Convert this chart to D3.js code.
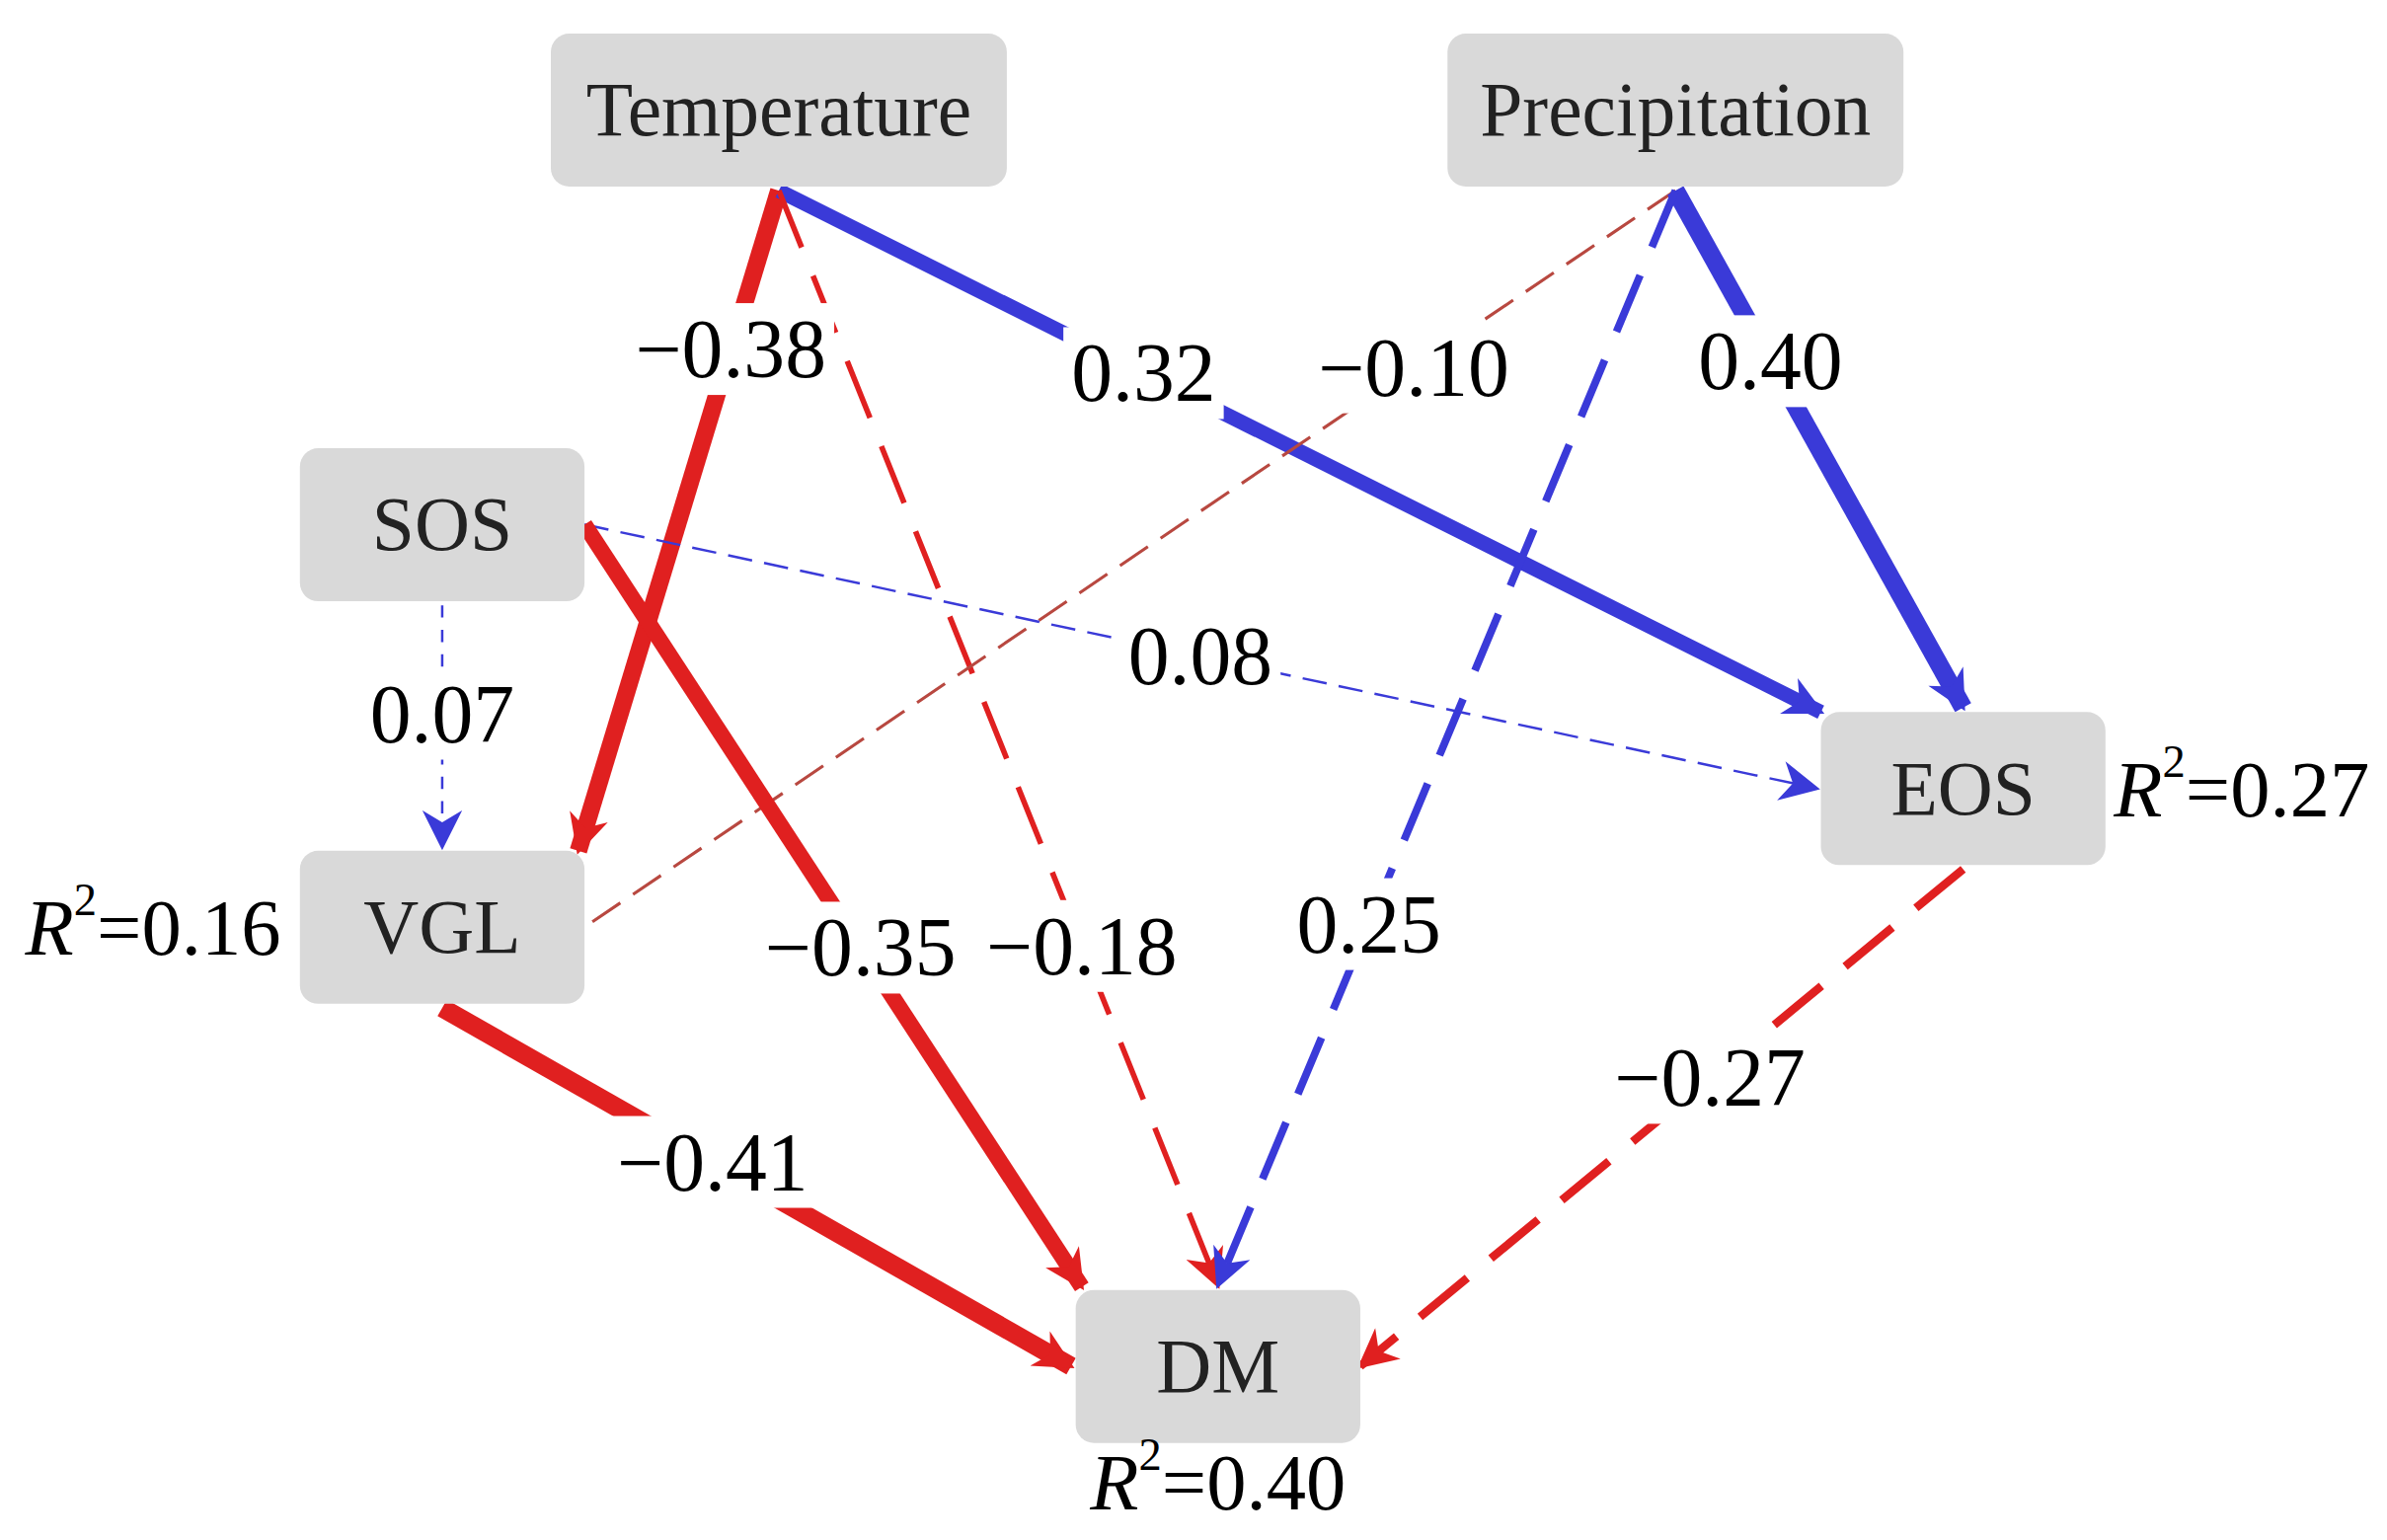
<!DOCTYPE html><html><head><meta charset="utf-8">
<script src="https://cdn.jsdelivr.net/npm/d3@7"></script>
<style>body{margin:0;background:#fff}</style></head><body>
<script>
const nodes = ["Temperature","Precipitation","SOS","VGL","EOS","DM"];
const nodeX = [509,1095,289,289,1283,796];
const nodeY = [72,72,344,608,517,896];
const nodeW = [298,298,186,186,186,186];
const edgeFrom = ["Temperature","Temperature","Temperature","Precipitation","Precipitation","Precipitation","SOS","SOS","SOS","VGL","EOS"];
const edgeTo   = ["VGL","EOS","DM","VGL","EOS","DM","VGL","EOS","DM","DM","DM"];
const fromSide = ["b","b","b","b","b","b","b","r","r","b","b"];
const toSide   = ["tr","tl","t","r","t","t","t","l","tl","l","r"];
const coef     = [-0.38,0.32,-0.18,-0.10,0.40,0.25,0.07,0.08,-0.35,-0.41,-0.27];
const signif   = [true,true,false,false,true,false,false,false,true,true,false];
const labelT   = [0.24,0.35,0.69,0.24,0.33,0.67,0.45,0.5,0.555,0.43,0.42];
const r2Node = ["VGL","EOS","DM"];
const r2Val = ["0.16","0.27","0.40"];

const W=2418,H=1560;
const svg=d3.select("body").append("svg").attr("width",W).attr("height",H);
const sx=d3.scaleLinear().domain([0,1560]).range([0,W]);
const sy=d3.scaleLinear().domain([0,1010]).range([0,H]);
const k=W/1560;
const idx=n=>nodes.indexOf(n);
const defs=svg.append("defs");
[["red","#e02020"],["blue","#3a3ad8"]].forEach(([id,c])=>{
 defs.append("marker").attr("id","m"+id).attr("viewBox","0 0 10 10").attr("refX",9).attr("refY",5)
 .attr("markerWidth",34*k).attr("markerHeight",26*k).attr("markerUnits","userSpaceOnUse").attr("orient","auto")
 .append("path").attr("d","M0,0 L10,5 L0,10 L3,5 Z").attr("fill",c);
});
const hh=50;
function anchor(i,s){
 const cx=nodeX[i],cy=nodeY[i],hw=nodeW[i]/2;
 const m={b:[0,hh+3],t:[0,-hh-3],r:[hw,0],l:[-hw-3,0],tr:[hw-4,-hh],tl:[-hw+4,-hh-2]};
 if(s==="tl"&&nodes[i]==="EOS") return [cx-hw,cy-hh];
 return [cx+m[s][0],cy+m[s][1]];
}
const g=svg.append("g");
const lab=svg.append("g");
edgeFrom.forEach((f,e)=>{
 const a=idx(f),b=idx(edgeTo[e]);
 const p=anchor(a,fromSide[e]), q=anchor(b,toSide[e]);
 const c=coef[e];
 let col=c<0?"#e02020":"#3a3ad8", mk=c<0?"red":"blue";
 const brown=(f==="Precipitation"&&edgeTo[e]==="VGL");
 if(brown) col="#b84840";
 const w=signif[e]?Math.abs(c)*30:Math.max(1.6,Math.abs(c)*20);
 const dash=signif[e]?null:(Math.abs(c)<0.075?"8,8":Math.abs(c)<0.09?"16,8":Math.abs(c)<0.15?"22,10":"40,20");
 g.append("line").attr("x1",sx(p[0])).attr("y1",sy(p[1])).attr("x2",sx(q[0])).attr("y2",sy(q[1]))
  .attr("stroke",col).attr("stroke-width",w*k)
  .attr("stroke-dasharray",dash?dash.split(",").map(v=>v*k).join(","):null)
  .attr("marker-end",brown?null:"url(#m"+mk+")");
 const t=labelT[e];
 const lx=p[0]+(q[0]-p[0])*t, ly=p[1]+(q[1]-p[1])*t;
 const txt=(c<0?"\u2212":"")+Math.abs(c).toFixed(2);
 const tg=lab.append("g");
 const tx=tg.append("text").attr("x",sx(lx)).attr("y",sy(ly)).attr("text-anchor","middle").attr("dominant-baseline","central")
  .attr("font-family","Liberation Serif").attr("font-size",54*k).text(txt);
 const bb=tx.node().getBBox();
 tg.insert("rect","text").attr("x",bb.x-8).attr("y",bb.y).attr("width",bb.width+16).attr("height",bb.height).attr("fill","#fff");
});
const ng=svg.selectAll(".n").data(nodes).join("g");
ng.append("rect").attr("x",(d,i)=>sx(nodeX[i]-nodeW[i]/2)).attr("y",(d,i)=>sy(nodeY[i]-hh)).attr("width",(d,i)=>nodeW[i]*k).attr("height",100*k)
 .attr("rx",12*k).attr("fill","#d9d9d9");
ng.append("text").attr("x",(d,i)=>sx(nodeX[i])).attr("y",(d,i)=>sy(nodeY[i])).attr("text-anchor","middle").attr("dominant-baseline","central")
 .attr("font-family","Liberation Serif").attr("font-size",50*k).attr("fill","#222").text(d=>d);
const r2pos={VGL:[100,608],EOS:[1465,517],DM:[796,972]};
r2Node.forEach((n,i)=>{
 const [x,y]=r2pos[n];
 const t=svg.append("text").attr("x",sx(x)).attr("y",sy(y)).attr("text-anchor","middle").attr("dominant-baseline","central")
  .attr("font-family","Liberation Serif").attr("font-size",52*k);
 t.append("tspan").attr("font-style","italic").text("R");
 t.append("tspan").attr("font-size",30*k).attr("dy",-18*k).text("2");
 t.append("tspan").attr("dy",18*k).text("="+r2Val[i]);
});
</script></body></html>
